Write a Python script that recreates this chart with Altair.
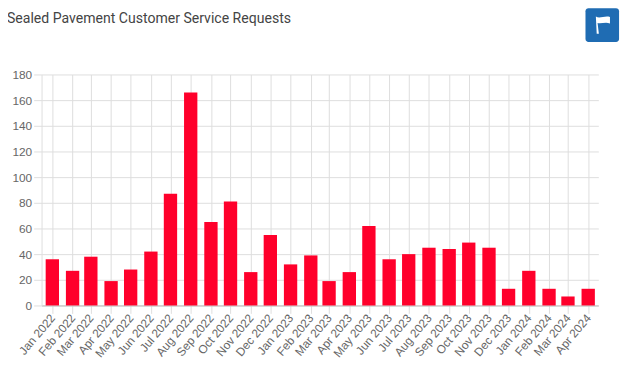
import altair as alt
import pandas as pd

months = pd.date_range("2022-01-01", "2024-04-01", freq="MS")
values = [36, 27, 38, 19, 28, 42, 87, 166, 65, 81, 26, 55, 32, 39, 19, 26, 62, 36, 40, 45, 44, 49, 45, 13, 27, 13, 7, 13]
title = "Sealed Pavement Customer Service Requests"
FONT = "Roboto"

month_strs = [m.strftime("%Y-%m-%dT00:00:00Z") for m in months]
df = pd.DataFrame({"month": month_strs, "requests": values})
tick_values = [alt.DateTime(year=m.year, month=m.month, date=1, utc=True) for m in months]

W, H = 564, 234
LEFT, TOP = 34, 65

xscale = alt.Scale(type="utc", nice=False, padding=0, domain=[
    alt.DateTime(year=2021, month=12, date=15, hours=12, utc=True),
    alt.DateTime(year=2024, month=4, date=16, hours=12, utc=True)])

bars = alt.Chart(df).mark_bar(color="#ff002b", size=13.5).encode(
    x=alt.X("month:T", scale=xscale, title=None, axis=alt.Axis(
        values=tick_values, labelExpr="utcFormat(datum.value, '%b %Y')",
        labelAngle=-50, labelAlign="right", labelBaseline="middle", labelFont="Liberation Sans", labelFontSize=12, labelColor="#666666",
        tickColor="#dddddd", tickSize=8, gridColor="#dddddd", domainColor="#bbbbbb", labelPadding=2, labelOverlap=False)),
    y=alt.Y("requests:Q", scale=alt.Scale(domain=[0, 180]), title=None, axis=alt.Axis(
        values=list(range(0, 181, 20)), labelFont="Liberation Sans", labelFontSize=12, labelColor="#666666",
        tickColor="#dddddd", tickSize=8, gridColor="#dddddd", domainColor="#dddddd", labelPadding=2)),
)

head = alt.Chart(pd.DataFrame({"t": [title]})).mark_text(
    align="left", baseline="middle", font=FONT, fontSize=14.25, color="#444444", clip=False
).encode(x=alt.value(7 - 8 - LEFT), y=alt.value(17 - 8 - TOP), text="t:N")

btn = alt.Chart(pd.DataFrame({"b": [1]})).mark_rect(color="#1f6cb3", cornerRadius=3, clip=False).encode(
    x=alt.value(593 - 8 - LEFT), x2=alt.value(627 - 8 - LEFT),
    y=alt.value(6 - 8 - TOP), y2=alt.value(40 - 8 - TOP))

flag = alt.Chart(pd.DataFrame({"b": [1]})).mark_point(
    shape="M-0.75 -1 C-0.3 -0.7 0.3 -1.15 0.9 -0.95 L0.9 -0.2 C0.4 -0.4 -0.1 -0.15 -0.55 -0.25 L-0.4 1 L-0.65 1 Z",
    filled=True, color="#ffffff", opacity=1, size=300, clip=False
).encode(x=alt.value(610 - 8 - LEFT), y=alt.value(23 - 8 - TOP))

chart = alt.layer(bars, head, btn, flag).properties(
    width=W, height=H,
    autosize=alt.AutoSizeParams(type="none"),
    padding={"left": LEFT, "top": TOP, "right": 25, "bottom": 60},
    background="#ffffff",
).configure_view(stroke=None)

chart.save("out.html", embed_options={"renderer": "svg", "actions": False})
